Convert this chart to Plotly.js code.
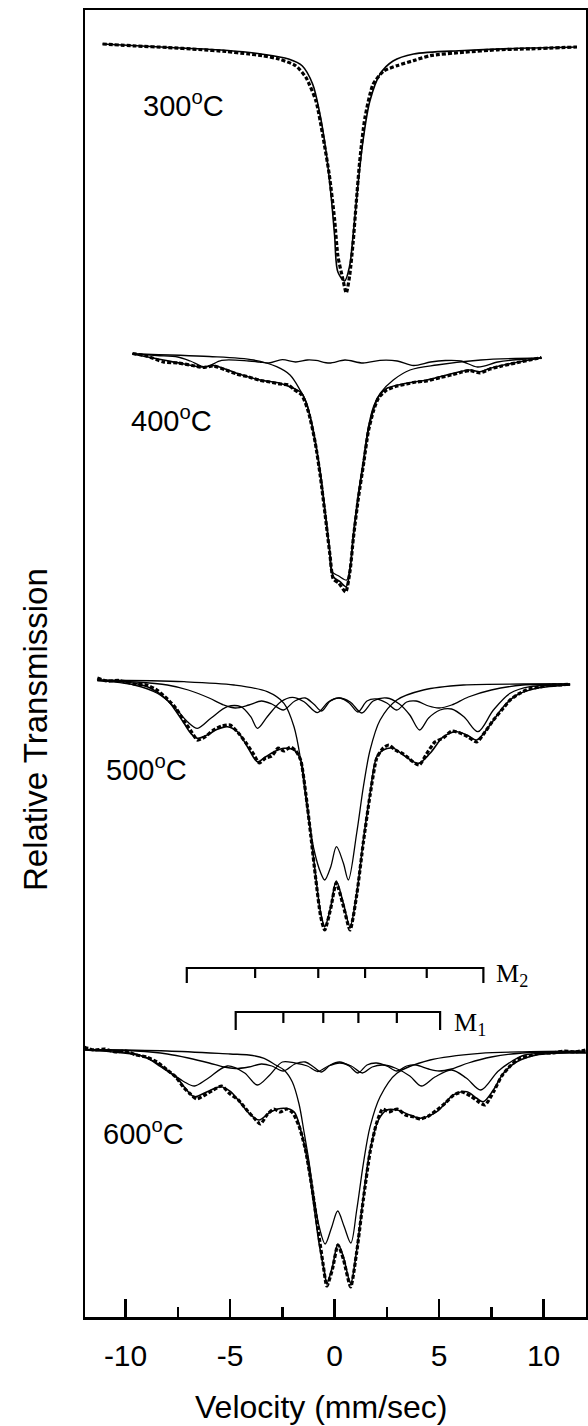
<!DOCTYPE html>
<html><head><meta charset="utf-8">
<script src="https://cdn.plot.ly/plotly-3.0.1.min.js"></script>
<style>html,body{margin:0;padding:0;background:#fff}#chart{width:588px;height:1426px}</style>
</head><body><div id="chart"></div>
<script>
// ---------- x axis ticks ----------
const tickVals = [-10, -5, 0, 5, 10];
const tickText = ['-10', '-5', '0', '5', '10'];
const minorVals = [-7.5, -2.5, 2.5, 7.5];

// ---------- temperatures ----------
const temps = ['300', '400', '500', '600'];

// ---------- 300 C ----------
const fit300V = [-11.1, -8.3, -5.1, -3.5, -2.2, -1.54, -1.05, -0.73, -0.41, -0.17, 0.0, 0.16, 0.48, 0.72, 0.89, 1.12, 1.36, 1.69, 2.18, 2.8, 3.78, 6.2, 9.4, 11.6];
const fit300T = [100.1, 99.8, 99.45, 99.1, 98.6, 97.9, 96.1, 93.4, 89.4, 85.0, 81.0, 77.3, 76.4, 77.9, 81.0, 86.0, 90.4, 94.4, 97.1, 98.4, 99.1, 99.45, 99.7, 99.8];
const data300V = [-11.1, -9.5, -8, -6.5, -5.2, -4.1, -3.47, -2.66, -1.86, -1.37, -0.89, -0.57, -0.25, 0.0, 0.16, 0.4, 0.56, 0.72, 0.89, 1.04, 1.2, 1.45, 1.84, 2.35, 2.98, 3.78, 4.59, 6.2, 7.8, 9.4, 11.6];
const data300T = [100.1, 99.9, 99.75, 99.55, 99.35, 99.1, 98.94, 98.6, 97.93, 96.76, 94.4, 91.03, 87.0, 82.6, 78.9, 76.55, 75.2, 76.9, 80.3, 84.3, 88.3, 92.7, 96.06, 97.4, 97.93, 98.44, 98.94, 99.28, 99.52, 99.62, 99.8];

// ---------- 400 C ----------
const sext400V = [-9.67, -8.5, -7.5, -6.9, -6.2, -5.4, -4.11, -3.6, -3.14, -2.5, -1.86, -1.3, -0.89, -0.25, 0.5, 1.36, 2.17, 3.0, 3.78, 4.59, 5.3, 6.04, 6.84, 7.81, 8.8, 9.9];
const sext400T = [100.13, 99.95, 99.8, 99.4, 98.8, 99.46, 99.4, 99.3, 99.2, 99.53, 99.3, 99.5, 99.46, 99.2, 99.5, 99.2, 99.46, 99.4, 98.95, 99.3, 99.45, 99.4, 98.8, 99.3, 99.55, 99.7];
const cent400V = [-9.67, -6, -3.88, -2.77, -2.13, -1.65, -1.33, -1.01, -0.69, -0.45, -0.25, -0.13, 0.2, 0.58, 0.74, 0.9, 1.14, 1.38, 1.62, 1.86, 2.18, 2.81, 3.61, 4.89, 7, 9.9];
const cent400T = [100.1, 99.85, 99.5, 98.83, 98.0, 96.5, 95.17, 92.17, 88.5, 84.5, 80.83, 78.33, 77.9, 77.5, 78.83, 82.17, 86.17, 89.5, 92.83, 94.83, 96.17, 97.5, 98.5, 99.0, 99.5, 99.7];
const fit400V = [-9.67, -8.19, -7.2, -6.28, -5.8, -4.68, -3.56, -2.61, -1.97, -1.57, -1.25, -0.93, -0.69, -0.45, -0.22, -0.06, 0.26, 0.55, 0.74, 0.9, 1.14, 1.38, 1.62, 1.86, 2.1, 2.5, 3.45, 4.41, 5.05, 6.48, 6.96, 7.44, 8.88, 9.9];
const fit400T = [100.1, 99.5, 99.1, 98.8, 98.95, 98.17, 97.5, 97.17, 96.67, 96.17, 94.5, 91.5, 88.17, 84.17, 80.17, 77.83, 77.33, 76.83, 78.5, 81.83, 85.83, 89.17, 92.5, 94.5, 95.83, 96.67, 97.17, 97.5, 97.83, 98.5, 98.33, 98.67, 99.33, 99.7];
const data400V = [-9.67, -9.0, -8.19, -7.5, -6.8, -6.28, -5.8, -5.2, -4.68, -4.1, -3.56, -3.1, -2.61, -2.2, -1.97, -1.57, -1.25, -0.93, -0.69, -0.45, -0.22, -0.06, 0.2, 0.53, 0.74, 0.9, 1.14, 1.38, 1.62, 1.86, 2.1, 2.5, 3.0, 3.45, 3.9, 4.41, 5.05, 5.6, 6.1, 6.48, 6.96, 7.44, 8.0, 8.88, 9.9];
const data400T = [100.15, 99.9, 99.3, 99.2, 98.95, 98.75, 98.9, 98.5, 98.1, 97.8, 97.45, 97.3, 97.1, 97.0, 96.6, 96.0, 94.3, 91.3, 88.0, 84.0, 80.0, 77.6, 77.2, 76.3, 78.4, 81.7, 85.7, 89.0, 92.4, 94.4, 95.7, 96.5, 96.9, 97.1, 97.3, 97.4, 97.75, 98.0, 98.3, 98.45, 98.2, 98.6, 98.9, 99.3, 99.75];

// ---------- 500 C ----------
const doub500V = [-11.35, -7.2, -4.81, -3.22, -2.42, -1.94, -1.62, -1.3, -0.98, -0.66, -0.47, -0.18, 0.09, 0.42, 0.66, 1.06, 1.38, 1.7, 2.18, 2.98, 4.25, 6.16, 9.03, 11.27];
const doub500T = [100, 99.83, 99.5, 98.83, 97.67, 95.33, 92.0, 87.0, 83.0, 80.7, 80.0, 81.33, 83.33, 81.7, 80.0, 84.7, 89.33, 93.0, 96.0, 98.0, 99.0, 99.5, 99.6, 99.6];
const m2s500V = [-11.35, -9.59, -8.48, -7.68, -7.04, -6.56, -5.92, -5.13, -4.49, -4.01, -3.69, -3.22, -2.57, -2.02, -1.46, -0.82, -0.3, 0.2, 0.75, 1.3, 1.85, 2.5, 3.1, 3.6, 4.07, 4.5, 5.05, 5.6, 6.2, 6.86, 7.6, 8.4, 9.35, 11.27];
const m2s500T = [99.93, 99.5, 98.67, 97.33, 95.83, 95.17, 96.17, 97.33, 97.33, 96.33, 95.17, 96.33, 97.83, 98.27, 97.83, 96.73, 97.8, 98.2, 97.8, 96.7, 97.9, 98.2, 97.6, 96.5, 95.0, 96.2, 97.0, 97.1, 96.3, 94.83, 97.0, 98.67, 99.33, 99.5];
const m1s500V = [-11.35, -9.5, -8, -7, -6, -5.3, -4.75, -4.1, -3.5, -3.0, -2.45, -1.9, -1.4, -1.0, -0.62, -0.2, 0.25, 0.7, 1.12, 1.55, 2.0, 2.5, 2.98, 3.45, 3.9, 4.5, 5.0, 5.6, 6.4, 7.5, 9, 11.27];
const m1s500T = [99.95, 99.8, 99.5, 99.0, 98.2, 97.5, 97.2, 97.5, 97.9, 97.6, 97.0, 97.9, 98.2, 97.6, 96.9, 97.9, 98.2, 97.7, 96.8, 97.9, 98.1, 97.7, 97.0, 97.8, 97.9, 97.4, 97.2, 97.5, 98.3, 99.0, 99.5, 99.6];
const fit500V = [-11.35, -9.59, -8.8, -8.0, -7.52, -7.2, -6.88, -6.56, -6.09, -5.61, -5.13, -4.65, -4.17, -3.69, -3.29, -2.89, -2.42, -1.94, -1.62, -1.38, -1.14, -0.9, -0.66, -0.47, -0.18, 0.08, 0.42, 0.74, 1.06, 1.38, 1.7, 2.02, 2.33, 2.81, 3.29, 4.01, 4.57, 5.21, 5.85, 6.33, 6.8, 7.44, 8.08, 8.72, 9.67, 11.27];
const fit500T = [100, 99.67, 99.17, 98.0, 96.67, 95.67, 94.67, 94.17, 94.5, 95.07, 95.33, 94.83, 93.33, 91.83, 92.33, 92.83, 93.17, 93.0, 92.0, 88.67, 84.67, 80.33, 76.67, 75.33, 77.33, 79.9, 77.67, 75.33, 78.67, 84.0, 88.67, 92.33, 93.0, 93.17, 92.5, 91.67, 92.67, 94.33, 94.83, 94.5, 94.0, 95.5, 97.33, 98.5, 99.17, 99.5];
const data500V = [-11.35, -10.9, -10.3, -9.6, -9.0, -8.5, -8.0, -7.6, -7.2, -6.9, -6.56, -6.2, -5.8, -5.4, -5.0, -4.6, -4.2, -3.85, -3.6, -3.3, -3.0, -2.7, -2.42, -2.1, -1.85, -1.62, -1.38, -1.14, -0.9, -0.66, -0.47, -0.18, 0.08, 0.42, 0.74, 1.06, 1.38, 1.7, 2.02, 2.33, 2.6, 2.9, 3.3, 3.7, 4.05, 4.4, 4.8, 5.2, 5.6, 6.0, 6.4, 6.8, 7.2, 7.6, 8.0, 8.4, 8.8, 9.3, 9.8, 10.3, 10.8, 11.27];
const data500T = [100.2, 99.9, 99.95, 99.6, 99.5, 99.0, 98.1, 97.2, 95.9, 95.0, 94.0, 94.3, 95.0, 95.4, 95.5, 94.7, 93.6, 92.5, 91.7, 92.2, 92.4, 93.2, 92.9, 93.3, 92.9, 92.0, 88.7, 84.5, 80.1, 76.3, 75.0, 77.2, 79.7, 77.4, 75.0, 78.5, 83.8, 88.5, 92.2, 93.2, 93.5, 93.0, 92.6, 91.9, 91.5, 92.6, 93.8, 94.2, 94.9, 94.7, 94.3, 93.8, 94.8, 96.0, 97.0, 98.0, 98.6, 99.1, 99.3, 99.5, 99.5, 99.6];

// ---------- 600 C ----------
const doub600V = [-12.0, -8, -5, -4.1, -3.37, -2.82, -2.42, -2.02, -1.7, -1.46, -1.22, -0.98, -0.72, -0.45, -0.15, 0.15, 0.45, 0.78, 1.06, 1.38, 1.7, 2.18, 2.98, 4.57, 6.96, 9.35, 12.0];
const doub600T = [99.85, 99.7, 99.4, 99.3, 98.97, 98.3, 97.8, 96.6, 94.4, 91.6, 88.6, 85.0, 82.0, 80.4, 82.0, 83.7, 82.2, 80.5, 83.8, 88.47, 92.13, 95.13, 97.47, 98.8, 99.47, 99.63, 99.7];
const m2s600V = [-12, -9.5, -8.48, -7.68, -7.2, -6.7, -6.1, -5.13, -4.3, -3.7, -3.1, -2.5, -1.9, -1.3, -0.81, -0.3, 0.24, 0.8, 1.33, 1.8, 2.32, 2.9, 3.6, 4.15, 4.8, 5.6, 6.3, 7.0, 7.81, 8.5, 9.1, 10.5, 12];
const m2s600T = [99.85, 99.4, 98.47, 97.3, 96.63, 96.2, 96.9, 98.2, 97.5, 96.3, 97.3, 98.6, 98.5, 98.2, 97.65, 98.2, 98.5, 98.2, 97.5, 98.1, 98.3, 98.0, 97.2, 96.2, 97.1, 97.8, 97.0, 95.8, 97.65, 98.7, 99.3, 99.5, 99.55];
const m1s600V = [-12, -9.5, -8, -7, -6, -5.3, -4.75, -4.1, -3.5, -3.0, -2.45, -1.9, -1.4, -1.0, -0.62, -0.2, 0.25, 0.7, 1.12, 1.55, 2.0, 2.5, 2.98, 3.45, 3.9, 4.5, 5.0, 5.6, 6.4, 7.5, 9, 12];
const m1s600T = [99.85, 99.7, 99.4, 99.0, 98.5, 98.1, 97.95, 98.1, 98.4, 98.2, 97.7, 98.4, 98.6, 98.1, 97.6, 98.3, 98.6, 98.2, 97.5, 98.3, 98.5, 98.2, 97.7, 98.2, 98.3, 97.9, 97.7, 97.9, 98.5, 99.1, 99.5, 99.6];
const fit600V = [-11.99, -9.11, -8.32, -7.52, -7.2, -6.72, -6.09, -5.45, -4.97, -4.49, -4.01, -3.61, -3.05, -2.42, -1.94, -1.62, -1.3, -0.98, -0.74, -0.5, -0.37, -0.1, 0.16, 0.42, 0.77, 1.06, 1.38, 1.7, 2.1, 2.5, 2.98, 3.61, 4.09, 4.89, 5.68, 6.33, 6.8, 7.12, 7.6, 8.08, 8.72, 9.67, 11.27, 12.03];
const fit600T = [99.8, 99.13, 98.13, 96.97, 96.13, 95.13, 95.63, 96.13, 95.63, 94.47, 93.3, 92.8, 93.63, 93.97, 93.63, 91.8, 88.8, 84.13, 80.47, 77.8, 76.47, 78.13, 80.4, 79.13, 76.47, 79.8, 85.13, 89.8, 92.8, 93.8, 93.8, 93.3, 92.97, 93.63, 95.3, 95.63, 94.97, 94.63, 95.8, 97.47, 98.63, 99.3, 99.53, 99.5];
const data600V = [-11.99, -11.5, -11.0, -10.5, -10.0, -9.5, -9.0, -8.5, -8.0, -7.6, -7.2, -6.9, -6.6, -6.2, -5.8, -5.4, -5.0, -4.6, -4.2, -3.85, -3.55, -3.2, -2.9, -2.6, -2.3, -2.0, -1.7, -1.4, -1.1, -0.8, -0.55, -0.37, -0.1, 0.16, 0.42, 0.77, 1.06, 1.38, 1.7, 2.0, 2.3, 2.6, 3.0, 3.4, 3.8, 4.1, 4.5, 4.9, 5.3, 5.7, 6.1, 6.5, 6.9, 7.2, 7.6, 8.0, 8.4, 8.8, 9.3, 9.8, 10.4, 11.0, 11.5, 12.0];
const data600T = [100.1, 99.8, 99.9, 99.6, 99.7, 99.3, 99.1, 98.6, 97.8, 97.1, 96.0, 95.4, 94.9, 95.3, 95.8, 96.2, 95.4, 94.8, 93.8, 93.0, 92.4, 93.4, 93.9, 93.6, 93.9, 93.5, 92.2, 89.9, 86.3, 82.0, 78.4, 76.2, 77.9, 80.3, 78.9, 76.1, 79.6, 84.9, 89.6, 92.4, 93.9, 93.6, 93.9, 93.3, 93.1, 92.9, 93.2, 93.8, 94.5, 95.3, 95.6, 95.2, 94.6, 94.3, 95.6, 97.2, 98.2, 98.9, 99.2, 99.5, 99.5, 99.7, 99.6, 99.8];

// ---------- sextet stick markers (mm/s) ----------
const m2Lines = [-7.07, -3.8, -0.78, 1.46, 4.41, 7.12];
const m1Lines = [-4.73, -2.45, -0.54, 1.14, 2.98, 5.05];

// ---------- layout constants (positions, not data) ----------
const offsets = {'300': 27.2, '400': -3.8, '500': -36.3, '600': -73.1};
const Y_TOP = 130.7;
const BLACK = '#000';

const spectra = {
  '300': {comps: [], fit: [fit300V, fit300T], data: [data300V, data300T]},
  '400': {comps: [[sext400V, sext400T], [cent400V, cent400T]], fit: [fit400V, fit400T], data: [data400V, data400T]},
  '500': {comps: [[doub500V, doub500T], [m2s500V, m2s500T], [m1s500V, m1s500T]], fit: [fit500V, fit500T], data: [data500V, data500T]},
  '600': {comps: [[doub600V, doub600T], [m2s600V, m2s600T], [m1s600V, m1s600T]], fit: [fit600V, fit600T], data: [data600V, data600T]}
};

const traces = [];
function shifted(arr, off) { return arr.map(t => t + off); }
temps.forEach(tk => {
  const s = spectra[tk], off = offsets[tk];
  s.comps.forEach(c => traces.push({x: c[0], y: shifted(c[1], off), mode: 'lines', hoverinfo: 'skip',
    line: {color: BLACK, width: 1.3, shape: 'spline', smoothing: 0.9}}));
  traces.push({x: s.fit[0], y: shifted(s.fit[1], off), mode: 'lines', hoverinfo: 'skip',
    line: {color: BLACK, width: 1.6, shape: 'spline', smoothing: 0.9}});
  traces.push({x: s.data[0], y: shifted(s.data[1], off), mode: 'lines', hoverinfo: 'skip',
    line: {color: BLACK, width: 3.2, dash: '4px,2px', shape: 'spline', smoothing: 0.6}});
});

// stick diagrams
function stickTrace(lines, barY, endY, innerY) {
  const xs = [], ys = [];
  const n = lines.length;
  xs.push(lines[0], lines[0], lines[n - 1], lines[n - 1]);
  ys.push(endY, barY, barY, endY);
  for (let i = 1; i < n - 1; i++) { xs.push(null, lines[i], lines[i]); ys.push(null, barY, innerY); }
  return {x: xs, y: ys, mode: 'lines', hoverinfo: 'skip', line: {color: BLACK, width: 2.2}};
}
traces.push(stickTrace(m2Lines, 34.9, 33.4, 33.9));
traces.push(stickTrace(m1Lines, 30.5, 28.7, 29.4));

// annotation helpers (paper coords from pixel layout)
const L = 85, R = 586, T = 10, B = 1317;
const px = x => (x - L) / (R - L);
const py = y => (B - y) / (B - T);

const tempPos = {'300': [141, 104], '400': [129, 419], '500': [104, 768], '600': [101, 1132]};
const annotations = temps.map(tk => ({
  text: tk + '<sup>o</sup>C', xref: 'paper', yref: 'paper', x: px(tempPos[tk][0]), y: py(tempPos[tk][1]),
  xanchor: 'left', yanchor: 'middle', showarrow: false,
  font: {family: 'Liberation Sans, Arial, sans-serif', size: 29, color: BLACK}
}));
annotations.push({text: 'M<sub>2</sub>', xref: 'paper', yref: 'paper', x: px(494), y: py(975), xanchor: 'left', yanchor: 'middle', showarrow: false,
  font: {family: 'Liberation Serif, Times New Roman, serif', size: 26, color: BLACK}});
annotations.push({text: 'M<sub>1</sub>', xref: 'paper', yref: 'paper', x: px(452), y: py(1024), xanchor: 'left', yanchor: 'middle', showarrow: false,
  font: {family: 'Liberation Serif, Times New Roman, serif', size: 26, color: BLACK}});
annotations.push({text: 'Velocity (mm/sec)', xref: 'paper', yref: 'paper', x: px(321), y: py(1407), xanchor: 'center', yanchor: 'middle', showarrow: false,
  font: {family: 'Liberation Sans, Arial, sans-serif', size: 32, color: BLACK}});
annotations.push({text: 'Relative Transmission', xref: 'paper', yref: 'paper', x: px(35), y: py(730), xanchor: 'center', yanchor: 'middle', showarrow: false, textangle: -90,
  font: {family: 'Liberation Sans, Arial, sans-serif', size: 33, color: BLACK}});

const layout = {
  width: 588, height: 1426,
  margin: {l: L, r: 588 - R, t: T, b: 1426 - B},
  paper_bgcolor: '#fff', plot_bgcolor: '#fff', showlegend: false,
  font: {family: 'Liberation Sans, Arial, sans-serif', color: BLACK},
  xaxis: {range: [-11.94, 12.03], tickmode: 'array', tickvals: tickVals, ticktext: tickText,
    ticks: 'inside', ticklen: 18, tickwidth: 2.5, tickcolor: BLACK,
    showline: true, linewidth: 2.5, linecolor: BLACK, mirror: true,
    showgrid: false, zeroline: false, tickfont: {size: 30, color: BLACK}, ticklabelstandoff: 10,
    minor: {tickmode: 'array', tickvals: minorVals, ticks: 'inside', ticklen: 10, tickwidth: 2.5, tickcolor: BLACK, showgrid: false}},
  yaxis: {range: [0, Y_TOP], showticklabels: false, ticks: '', showline: true, linewidth: 2.5, linecolor: BLACK,
    mirror: true, showgrid: false, zeroline: false},
  annotations: annotations
};

Plotly.newPlot('chart', traces, layout, {staticPlot: true, displayModeBar: false});
</script>
</body></html>
